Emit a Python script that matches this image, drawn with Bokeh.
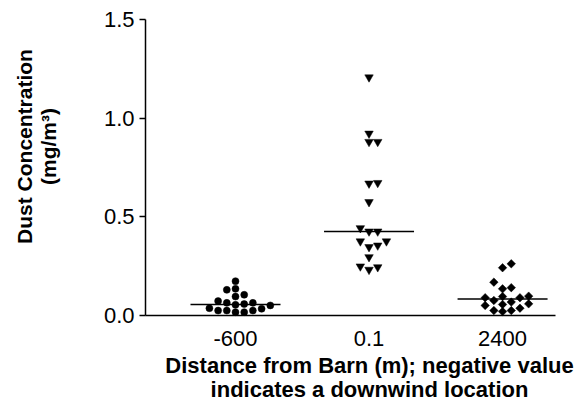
import numpy as np
from bokeh.plotting import figure
from bokeh.models import Range1d, Label, FixedTicker, NumeralTickFormatter, ColumnDataSource
from bokeh.embed import file_html
from bokeh.resources import INLINE

# ---------------- data ----------------
categories = ["-600", "0.1", "2400"]
dust_m600 = [0.174, 0.135, 0.130, 0.096, 0.105, 0.064, 0.054, 0.058, 0.064, 0.073,
             0.037, 0.025, 0.017, 0.017, 0.025, 0.025, 0.034, 0.051]
dust_0p1 = [1.207, 0.922, 0.880, 0.880, 0.672, 0.669, 0.575, 0.426, 0.426, 0.443,
            0.376, 0.347, 0.355, 0.376, 0.296, 0.249, 0.232, 0.245]
dust_2400 = [0.262, 0.242, 0.169, 0.135, 0.141, 0.098, 0.090, 0.090, 0.096, 0.076,
             0.068, 0.059, 0.051, 0.056, 0.037, 0.025, 0.020, 0.025]
y_ticks = [0.0, 0.5, 1.0, 1.5]
x_label_lines = ["Distance from Barn (m); negative value", "indicates a downwind location"]
y_label_lines = ["Dust Concentration", "(mg/m\u00b3)"]

# ---------------- layout (pixel geometry of the page) ----------------
W, H = 575, 404
AX_LEFT, AX_RIGHT, AX_TOP, AX_BOTTOM = 145, 555, 19, 315   # axis box in page pixels
CAT1_PX = 235
x_lo, y_lo, y_hi = 0.326, 0.0, 1.5
px_x = (CAT1_PX - AX_LEFT) / (1 - x_lo)
x_hi = x_lo + (AX_RIGHT - AX_LEFT) / px_x
px_y = (AX_BOTTOM - AX_TOP) / (y_hi - y_lo)

FONT = "Liberation Sans"


def dx(px):
    return x_lo + (px - AX_LEFT) / px_x


def dy(py):
    return y_lo + (AX_BOTTOM - py) / px_y


def swarm(vals, step_px=8.7, min_dy=7.0):
    vals = np.asarray(vals, dtype=float)
    order = np.argsort(vals, kind="stable")
    cand = [0]
    for k in range(1, 12):
        cand += [k, -k]
    placed = []
    slots = np.zeros(len(vals))
    for i in order:
        y = vals[i] * px_y
        for c in cand:
            if all(not (s == c and abs(y - yy) < min_dy) for s, yy in placed):
                placed.append((c, y))
                slots[i] = c
                break
    return slots * step_px / px_x


p = figure(width=W, height=H, output_backend="svg", toolbar_location=None,
           x_range=Range1d(dx(0), dx(W)), y_range=Range1d(dy(H), dy(0)),
           min_border=0)
p.outline_line_color = None
p.grid.visible = False
p.background_fill_color = "white"
p.border_fill_color = "white"

groups = [dust_m600, dust_0p1, dust_2400]
markers = ["circle", "inverted_triangle", "square"]
sizes = [7, 8.5, 6]
angles = [0, 0, np.pi / 4]
for gi, (vals, mk, sz, ang) in enumerate(zip(groups, markers, sizes, angles)):
    cx = gi + 1
    xs = cx + swarm(vals)
    src = ColumnDataSource(dict(x=xs, y=vals))
    p.scatter("x", "y", source=src, marker=mk, size=sz, angle=ang,
              fill_color="black", line_color="black", line_width=0.5)
    med = float(np.median(vals))
    p.segment(x0=[cx - 0.337], y0=[med], x1=[cx + 0.337], y1=[med],
              line_color="black", line_width=1.5)

# y axis
ya = p.yaxis[0]
ya.fixed_location = x_lo
ya.bounds = (y_lo, y_hi)
ya.ticker = FixedTicker(ticks=y_ticks)
ya.formatter = NumeralTickFormatter(format="0.0")
ya.minor_tick_line_color = None
ya.major_tick_out = 6
ya.major_tick_in = 0
ya.major_label_standoff = 5
ya.axis_line_width = 1.5
ya.major_tick_line_width = 1.5
ya.major_label_text_font = FONT
ya.major_label_text_font_size = "22px"
ya.major_label_text_color = "black"

# x axis
xa = p.xaxis[0]
xa.fixed_location = y_lo
xa.bounds = (x_lo, x_hi)
xa.ticker = FixedTicker(ticks=[1, 2, 3])
xa.major_label_overrides = {1: categories[0], 2: categories[1], 3: categories[2]}
xa.minor_tick_line_color = None
xa.major_tick_line_color = None
xa.major_tick_out = 0
xa.major_tick_in = 0
xa.major_label_standoff = 15
xa.axis_line_width = 1.5
xa.major_label_text_font = FONT
xa.major_label_text_font_size = "22px"
xa.major_label_text_color = "black"

# x axis title (two lines)
for line, base in zip(x_label_lines, [365, 389]):
    p.add_layout(Label(x=dx(369), y=dy(base), text=line, text_align="center",
                       text_baseline="alphabetic", text_font=FONT, text_font_style="bold",
                       text_font_size="22px", text_color="black"))

# y axis title (two lines, rotated)
for line, base in zip(y_label_lines, [24, 48]):
    p.add_layout(Label(x=dx(base), y=dy(146), text=line, text_align="center",
                       text_baseline="alphabetic", angle=np.pi / 2, text_font=FONT,
                       text_font_style="bold", text_font_size="21px", text_color="black"))

open("out.html", "w").write(file_html(p, INLINE))
